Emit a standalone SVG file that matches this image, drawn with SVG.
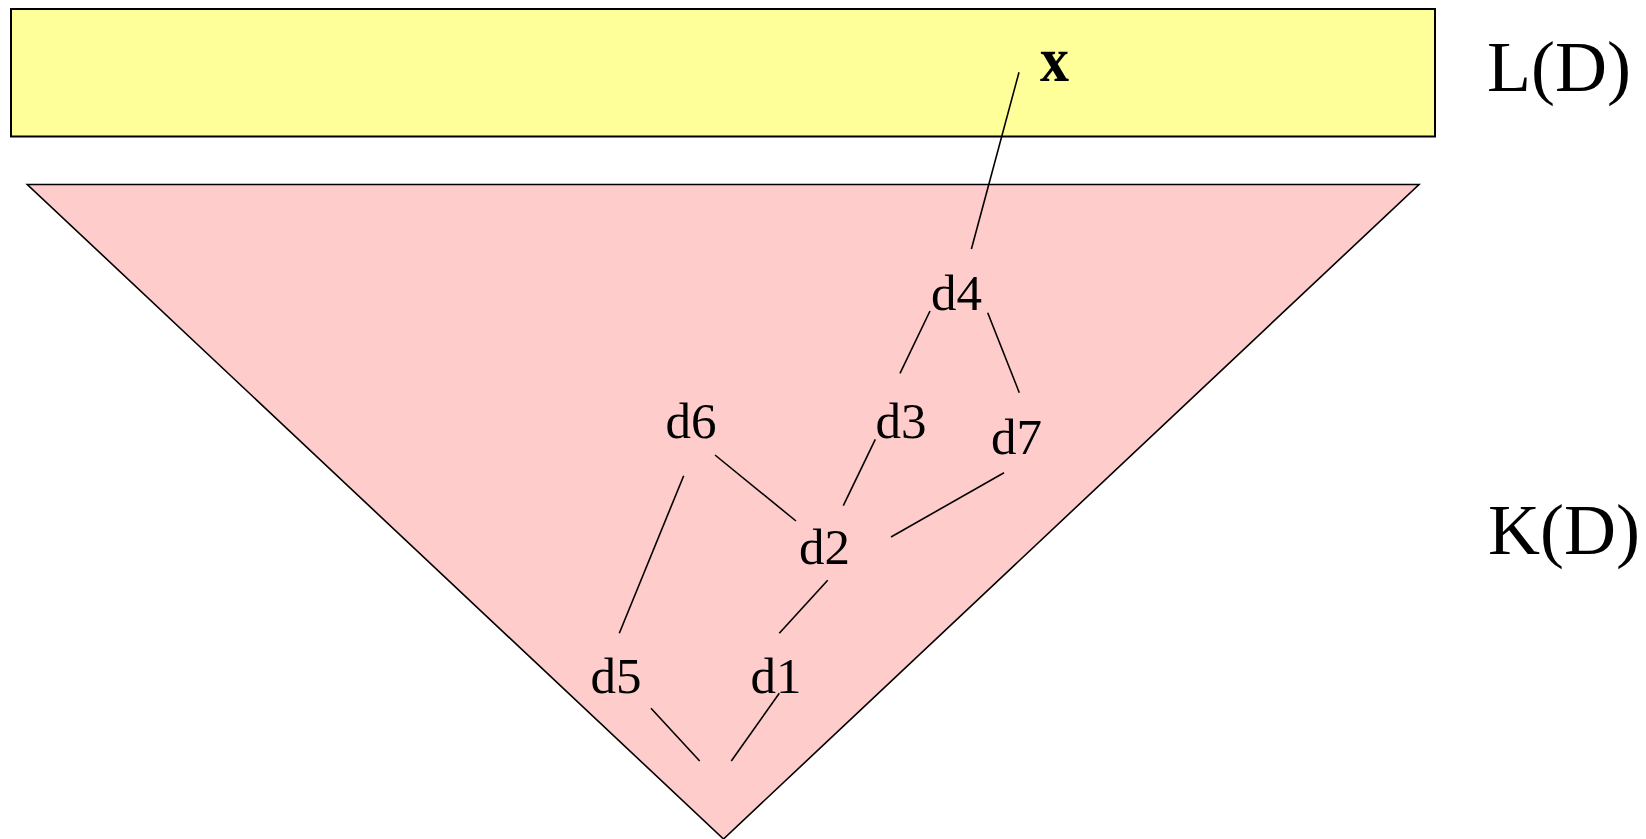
<svg xmlns="http://www.w3.org/2000/svg" width="1646" height="839" viewBox="0 0 1646 839">
<style>
.lbl{font-family:"Liberation Serif","Times New Roman",serif;font-size:51px;fill:#000}
.big{font-family:"Liberation Serif","Times New Roman",serif;font-size:72px;fill:#000}
.edge{stroke:#000;stroke-width:1.6;fill:none}
</style>
<rect width="1646" height="839" fill="#fff"/>
<g id="L">
<rect x="11" y="9" width="1424" height="127.5" fill="#FFFF99" stroke="#000" stroke-width="2"/>
</g>
<g id="K">
<polygon points="27.3,184.5 1419,184.5 723.5,839" fill="#FFCCCC" stroke="#000" stroke-width="1.6"/>
</g>
<g id="labels">
<text class="big" x="1487" y="90.7">L(D)</text>
<text class="big" x="1488" y="554.3">K(D)</text>
</g>
<g id="node-x"><text x="1040" y="80.7" font-family="Liberation Serif,serif" font-weight="bold" font-size="63" textLength="29" lengthAdjust="spacingAndGlyphs">x</text></g>
<g id="node-d4"><text class="lbl" x="931" y="309.5">d4</text></g>
<g id="node-d6"><text class="lbl" x="665.5" y="437.5">d6</text></g>
<g id="node-d3"><text class="lbl" x="875.5" y="437.5">d3</text></g>
<g id="node-d7"><text class="lbl" x="991" y="453.5">d7</text></g>
<g id="node-d2"><text class="lbl" x="799" y="564">d2</text></g>
<g id="node-d5"><text class="lbl" x="590.5" y="692.5">d5</text></g>
<g id="node-d1"><text class="lbl" x="750.5" y="692.5">d1</text></g>
<g id="connectors" class="edge">
<line x1="1019" y1="72.3" x2="971.4" y2="249"/>
<line x1="930" y1="311" x2="900" y2="373.3"/>
<line x1="987.7" y1="312.7" x2="1019.3" y2="392.7"/>
<line x1="715" y1="455" x2="796" y2="521"/>
<line x1="875.3" y1="439.3" x2="843.3" y2="505.7"/>
<line x1="1004" y1="472.7" x2="891" y2="537"/>
<line x1="683.7" y1="475.7" x2="619.3" y2="633.3"/>
<line x1="827.7" y1="580.3" x2="779.3" y2="633.3"/>
<line x1="651" y1="708.3" x2="699.7" y2="761"/>
<line x1="779.3" y1="693.3" x2="731.3" y2="761"/>
</g>
</svg>
